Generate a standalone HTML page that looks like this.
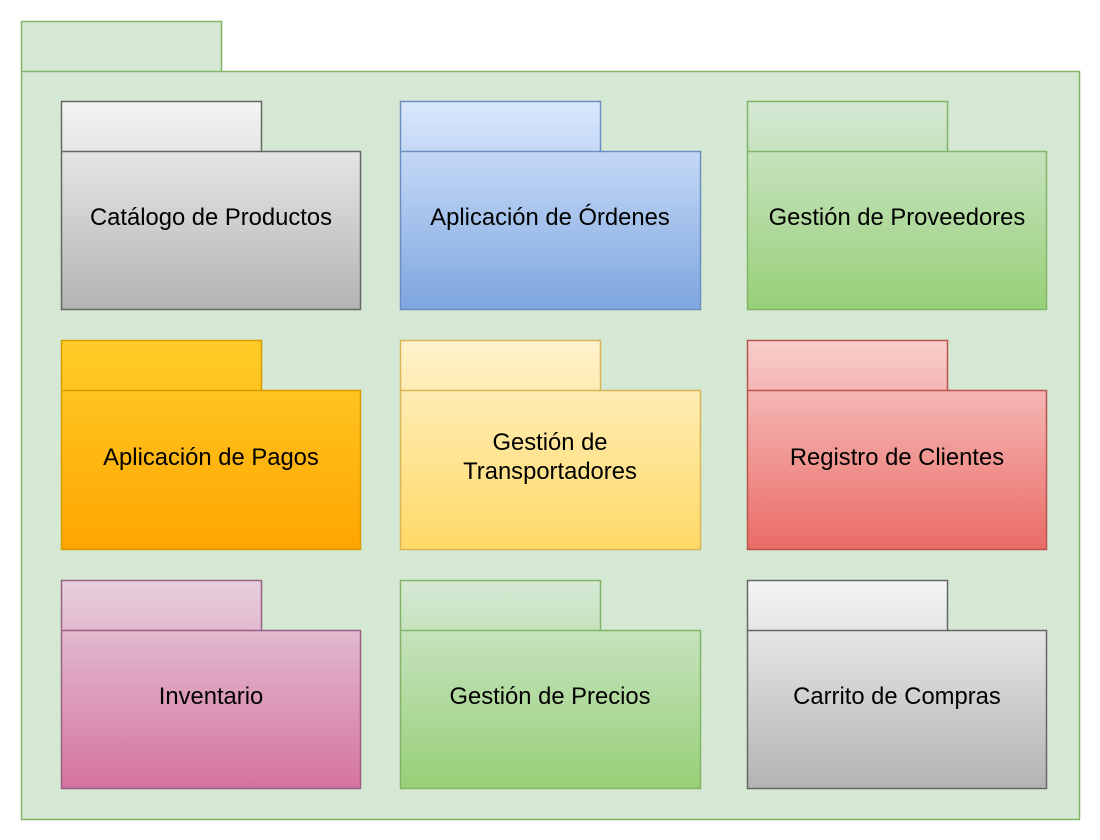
<!DOCTYPE html>
<html><head><meta charset="utf-8"><style>
html,body{margin:0;padding:0;background:#fff;}
svg{display:block;}
text{font-family:"Liberation Sans",Helvetica,Arial,sans-serif;font-size:23.8px;fill:#000;}
</style></head><body>
<svg width="1100" height="840" viewBox="0 0 1100 840" xmlns="http://www.w3.org/2000/svg">
<defs>
<linearGradient id="gGray" x1="0" y1="0" x2="0" y2="1"><stop offset="0" stop-color="#f5f5f5"/><stop offset="1" stop-color="#b3b3b3"/></linearGradient>
<linearGradient id="gBlue" x1="0" y1="0" x2="0" y2="1"><stop offset="0" stop-color="#dae8fc"/><stop offset="1" stop-color="#7ea6e0"/></linearGradient>
<linearGradient id="gGreen" x1="0" y1="0" x2="0" y2="1"><stop offset="0" stop-color="#d5e8d4"/><stop offset="1" stop-color="#97d077"/></linearGradient>
<linearGradient id="gOrange" x1="0" y1="0" x2="0" y2="1"><stop offset="0" stop-color="#ffcd28"/><stop offset="1" stop-color="#ffa500"/></linearGradient>
<linearGradient id="gYellow" x1="0" y1="0" x2="0" y2="1"><stop offset="0" stop-color="#fff2cc"/><stop offset="1" stop-color="#ffd966"/></linearGradient>
<linearGradient id="gRed" x1="0" y1="0" x2="0" y2="1"><stop offset="0" stop-color="#f8cecc"/><stop offset="1" stop-color="#ea6b66"/></linearGradient>
<linearGradient id="gPink" x1="0" y1="0" x2="0" y2="1"><stop offset="0" stop-color="#e6d0de"/><stop offset="1" stop-color="#d5739d"/></linearGradient>
</defs>

<g stroke-width="1.5">
<path d="M21.5,21.5 h200 v50 h858 v748 h-1058 z" fill="#d5e8d4" stroke="#82b366"/>
<line x1="21.5" y1="71.5" x2="221.5" y2="71.5" stroke="#82b366"/>

<path d="M61.5,101.5 h200 v50 h99 v158 h-299 z" fill="url(#gGray)" stroke="#666666"/>
<line x1="61.5" y1="151.5" x2="261.5" y2="151.5" stroke="#666666"/>

<path d="M400.5,101.5 h200 v50 h100 v158 h-300 z" fill="url(#gBlue)" stroke="#6c8ebf"/>
<line x1="400.5" y1="151.5" x2="600.5" y2="151.5" stroke="#6c8ebf"/>

<path d="M747.5,101.5 h200 v50 h99 v158 h-299 z" fill="url(#gGreen)" stroke="#82b366"/>
<line x1="747.5" y1="151.5" x2="947.5" y2="151.5" stroke="#82b366"/>

<path d="M61.5,340.5 h200 v50 h99 v159 h-299 z" fill="url(#gOrange)" stroke="#d79b00"/>
<line x1="61.5" y1="390.5" x2="261.5" y2="390.5" stroke="#d79b00"/>

<path d="M400.5,340.5 h200 v50 h100 v159 h-300 z" fill="url(#gYellow)" stroke="#d6b656"/>
<line x1="400.5" y1="390.5" x2="600.5" y2="390.5" stroke="#d6b656"/>

<path d="M747.5,340.5 h200 v50 h99 v159 h-299 z" fill="url(#gRed)" stroke="#b85450"/>
<line x1="747.5" y1="390.5" x2="947.5" y2="390.5" stroke="#b85450"/>

<path d="M61.5,580.5 h200 v50 h99 v158 h-299 z" fill="url(#gPink)" stroke="#996185"/>
<line x1="61.5" y1="630.5" x2="261.5" y2="630.5" stroke="#996185"/>

<path d="M400.5,580.5 h200 v50 h100 v158 h-300 z" fill="url(#gGreen)" stroke="#82b366"/>
<line x1="400.5" y1="630.5" x2="600.5" y2="630.5" stroke="#82b366"/>

<path d="M747.5,580.5 h200 v50 h99 v158 h-299 z" fill="url(#gGray)" stroke="#666666"/>
<line x1="747.5" y1="630.5" x2="947.5" y2="630.5" stroke="#666666"/>
</g>

<text x="211" y="225" text-anchor="middle">Catálogo de Productos</text>
<text x="550" y="225" text-anchor="middle">Aplicación de Órdenes</text>
<text x="897" y="225" text-anchor="middle">Gestión de Proveedores</text>
<text x="211" y="465" text-anchor="middle">Aplicación de Pagos</text>
<text x="550" y="450" text-anchor="middle">Gestión de</text>
<text x="550" y="479" text-anchor="middle">Transportadores</text>
<text x="897" y="465" text-anchor="middle">Registro de Clientes</text>
<text x="211" y="704" text-anchor="middle">Inventario</text>
<text x="550" y="704" text-anchor="middle">Gestión de Precios</text>
<text x="897" y="704" text-anchor="middle">Carrito de Compras</text>
</svg>
</body></html>
